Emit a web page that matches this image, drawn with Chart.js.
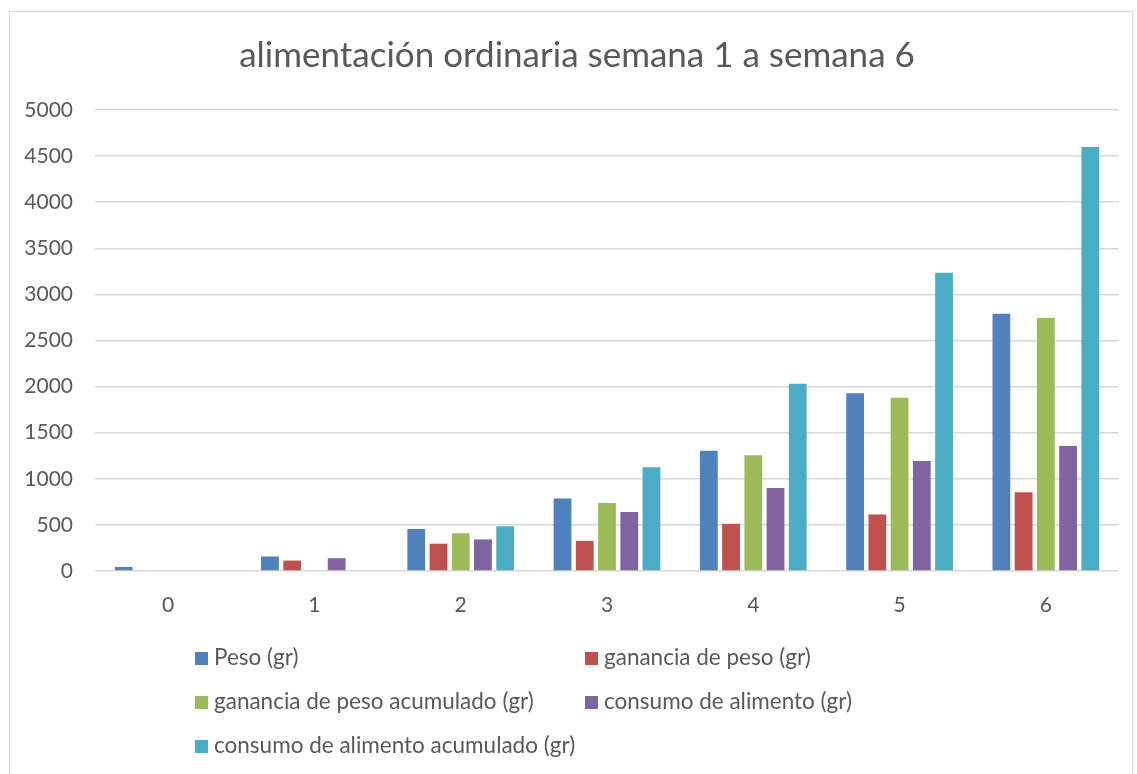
<!DOCTYPE html>
<html>
<head>
<meta charset="utf-8">
<script src="https://cdn.jsdelivr.net/npm/chart.js@4.4.0/dist/chart.umd.min.js"></script>
<style>
  html, body { margin: 0; padding: 0; background: #fff; overflow: hidden; }
  #wrap { position: relative; width: 1137px; height: 774px; }
  #frame { position: absolute; left: 9px; top: 11px; width: 1124px; height: 800px; border: 1px solid #d9d9d9; box-sizing: border-box; }
  #chart { position: absolute; left: 0; top: 0; }
  #title { position: absolute; left: 0; width: 1154px; top: 32px; text-align: center; font-family: Lato, sans-serif; font-size: 35px; color: #595959; }
  .leg { position: absolute; font-family: Lato, sans-serif; font-size: 22.5px; color: #595959; white-space: nowrap; line-height: 26px; }
  .leg span { display: inline-block; width: 13px; height: 13px; margin-right: 6px; vertical-align: 0px; }
</style>
</head>
<body>
<div id="wrap">
  <div id="frame"></div>
  <canvas id="chart" width="1137" height="774"></canvas>
  <div id="title">alimentación ordinaria semana 1 a semana 6</div>
  <div id="legend"></div>
</div>
<script>
// weeks and series
const semanas = ['0', '1', '2', '3', '4', '5', '6'];
const peso = [44, 157, 456, 787, 1303, 1927, 2790];
const gananciaPeso = [0, 113, 296, 327, 512, 613, 853];
const gananciaAcumulada = [0, 0, 409, 737, 1255, 1880, 2743];
const consumoAlimento = [0, 139, 343, 639, 900, 1194, 1357];
const consumoAcumulado = [0, 0, 485, 1125, 2032, 3235, 4598];
const yTicks = [0, 500, 1000, 1500, 2000, 2500, 3000, 3500, 4000, 4500, 5000];

const series = [
  { label: 'Peso (gr)', data: peso, color: '#4f81bd' },
  { label: 'ganancia de peso (gr)', data: gananciaPeso, color: '#c0504d' },
  { label: 'ganancia de peso acumulado (gr)', data: gananciaAcumulada, color: '#9bbb59' },
  { label: 'consumo de alimento (gr)', data: consumoAlimento, color: '#8064a2' },
  { label: 'consumo de alimento acumulado (gr)', data: consumoAcumulado, color: '#4bacc6' }
];

const textColor = '#595959';
const gridColor = '#d9d9d9';

new Chart(document.getElementById('chart'), {
  type: 'bar',
  data: {
    labels: semanas,
    datasets: series.map(s => ({
      label: s.label,
      data: s.data,
      backgroundColor: s.color,
      borderWidth: 0,
      categoryPercentage: 0.76,
      barPercentage: 0.8
    }))
  },
  options: {
    responsive: false,
    animation: false,
    layout: { padding: { left: 0, right: 18, top: 110, bottom: 0 } },
    plugins: {
      legend: { display: false },
      title: { display: false },
      tooltip: { enabled: false }
    },
    scales: {
      x: {
        grid: { display: false },
        border: { display: false },
        ticks: { color: textColor, font: { family: 'Lato, sans-serif', size: 21 }, padding: 14 },
        afterFit: scale => { scale.height = 203; }
      },
      y: {
        min: 0,
        max: 5000,
        afterBuildTicks: scale => { scale.ticks = yTicks.map(v => ({ value: v })); },
        grid: { color: gridColor, lineWidth: 1.5, drawTicks: false },
        border: { display: false },
        ticks: {
          color: textColor,
          font: { family: 'Lato, sans-serif', size: 21 },
          padding: 22,
          callback: v => String(v)
        },
        afterFit: scale => { scale.width = 95; }
      }
    }
  }
});

// legend laid out in two columns like the original
const legendPos = [[195, 644], [585, 644], [195, 688], [585, 688], [195, 732]];
const legend = document.getElementById('legend');
series.forEach((s, i) => {
  const el = document.createElement('div');
  el.className = 'leg';
  el.style.left = legendPos[i][0] + 'px';
  el.style.top = legendPos[i][1] + 'px';
  el.innerHTML = '<span style="background:' + s.color + '"></span>' + s.label;
  legend.appendChild(el);
});
</script>
</body>
</html>
